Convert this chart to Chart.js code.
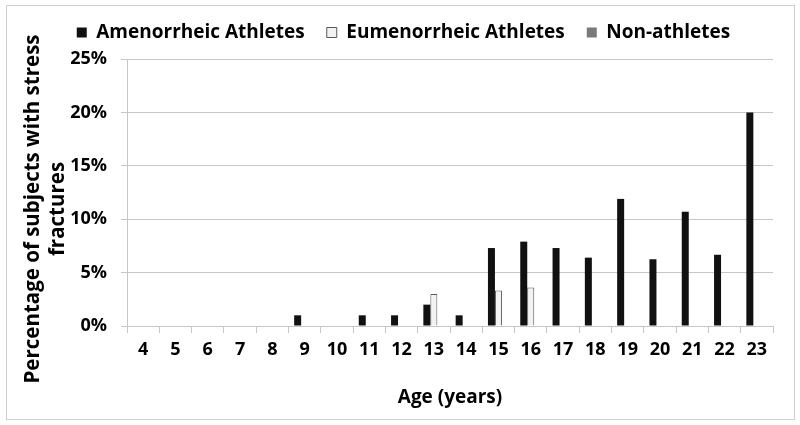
<!DOCTYPE html>
<html>
<head>
<meta charset="utf-8">
<script src="https://cdn.jsdelivr.net/npm/chart.js@4.4.1/dist/chart.umd.min.js"></script>
<style>
  html, body { margin: 0; padding: 0; background: #fff; }
  #wrap { width: 800px; height: 425px; position: relative; }
</style>
</head>
<body>
<div id="wrap"><canvas id="chart" width="800" height="425"></canvas></div>
<script>
// ages on the x axis
const ages = ['4', '5', '6', '7', '8', '9', '10', '11', '12', '13', '14', '15', '16', '17', '18', '19', '20', '21', '22', '23'];

// percentage of subjects with stress fractures
const amenorrheic = [0, 0, 0, 0, 0, 1, 0, 1, 1, 2, 1, 7.3, 7.9, 7.3, 6.4, 11.9, 6.25, 10.7, 6.67, 20];
const eumenorrheic = [0, 0, 0, 0, 0, 0, 0, 0, 0, 3, 0, 3.33, 3.6, 0, 0, 0, 0, 0, 0, 0];
const nonAthletes = [0, 0, 0, 0, 0, 0, 0, 0, 0, 0, 0, 0, 0, 0, 0, 0, 0, 0, 0, 0];

const yTicks = [0, 5, 10, 15, 20, 25];
const yTitle = ['Percentage of subjects with stress', 'fractures'];

const FONT = "'Open Sans', 'DejaVu Sans', sans-serif";
const GRID = '#c6c6c6';

// thin frame round the whole chart
const framePlugin = {
    id: 'frame',
    afterDraw: function(chart) {
        const ctx = chart.ctx;
        ctx.save();
        ctx.strokeStyle = '#cfcfcf';
        ctx.lineWidth = 1;
        ctx.strokeRect(6.5, 5.5, 788, 414);
        ctx.restore();
    }
};

// y title sits lower than the plot centre in the original, so draw it here
const yTitlePlugin = {
    id: 'yTitle',
    afterDraw: function(chart) {
        const ctx = chart.ctx;
        ctx.save();
        ctx.fillStyle = '#000';
        ctx.font = 'bold 20.5px ' + FONT;
        ctx.textAlign = 'center';
        ctx.textBaseline = 'middle';
        yTitle.forEach(function(line, i) {
            ctx.save();
            ctx.translate(33 + i * 25, 209);
            ctx.rotate(-Math.PI / 2);
            ctx.fillText(line, 0, 0);
            ctx.restore();
        });
        ctx.restore();
    }
};

// nudge the legend row: a bit right and up, like the original
const legendShift = {
    id: 'legendShift',
    afterLayout: function(chart) {
        const lg = chart.legend;
        if (!lg) return;
        lg.left += 17;
        lg.right += 17;
        lg.top -= 7;
        lg.bottom -= 7;
    }
};

new Chart(document.getElementById('chart'), {
    type: 'bar',
    data: {
        labels: ages,
        datasets: [
            {
                label: 'Amenorrheic Athletes',
                data: amenorrheic,
                backgroundColor: '#111111',
                borderColor: '#111111',
                borderWidth: 0
            },
            {
                label: 'Eumenorrheic Athletes',
                data: eumenorrheic,
                backgroundColor: '#f2f2f2',
                borderColor: '#5a5a5a',
                borderWidth: 1
            },
            {
                label: 'Non-athletes',
                data: nonAthletes,
                backgroundColor: '#7a7a7a',
                borderColor: '#7a7a7a',
                borderWidth: 0
            }
        ]
    },
    options: {
        responsive: false,
        animation: false,
        categoryPercentage: 0.65,
        barPercentage: 1.0,
        layout: { padding: { left: 0, right: 27, top: 8, bottom: 0 } },
        plugins: {
            legend: {
                position: 'top',
                labels: {
                    boxWidth: 10,
                    boxHeight: 10,
                    padding: 22,
                    color: '#000',
                    font: { family: FONT, size: 19, weight: 'bold' },
                    generateLabels: function(chart) {
                        return chart.data.datasets.map(function(ds, i) {
                            return {
                                text: ds.label,
                                fillStyle: ds.backgroundColor,
                                strokeStyle: i === 1 ? '#5a5a5a' : ds.backgroundColor,
                                lineWidth: i === 1 ? 1 : 0,
                                datasetIndex: i,
                                fontColor: '#000'
                            };
                        });
                    }
                }
            },
            tooltip: { enabled: false }
        },
        scales: {
            x: {
                afterFit: function(scale) { scale.height = 99; },
                grid: {
                    offset: true,
                    drawOnChartArea: false,
                    drawTicks: true,
                    tickLength: 7,
                    color: GRID
                },
                border: { color: GRID },
                ticks: {
                    color: '#000',
                    padding: 6,
                    font: { family: FONT, size: 18, weight: 'bold' }
                },
                title: {
                    display: true,
                    text: 'Age (years)',
                    color: '#000',
                    padding: { top: 0, bottom: 16 },
                    font: { family: FONT, size: 19, weight: 'bold' }
                }
            },
            y: {
                min: 0,
                max: 25,
                afterFit: function(scale) { scale.width = 127; },
                afterBuildTicks: function(scale) {
                    scale.ticks = yTicks.map(function(v) { return { value: v }; });
                },
                grid: {
                    color: GRID,
                    tickLength: 6
                },
                border: { color: GRID },
                ticks: {
                    color: '#000',
                    padding: 14,
                    font: { family: FONT, size: 18, weight: 'bold' },
                    callback: function(v) { return v + '%'; }
                }
            }
        }
    },
    plugins: [framePlugin, yTitlePlugin, legendShift]
});
</script>
</body>
</html>
